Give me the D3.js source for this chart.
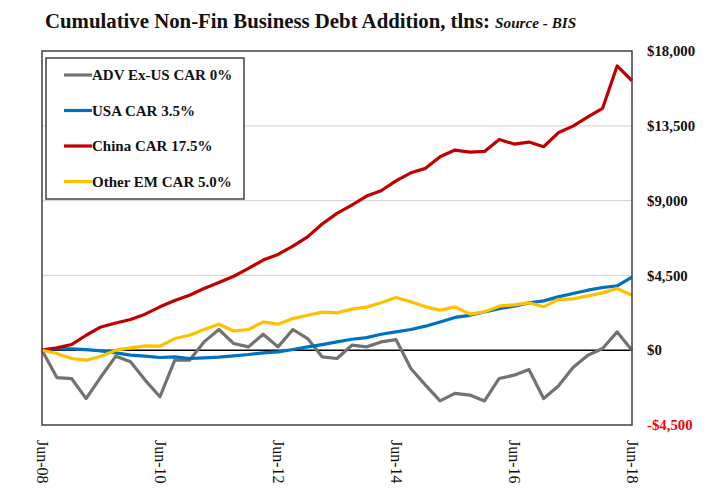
<!DOCTYPE html>
<html>
<head>
<meta charset="utf-8">
<script src="https://cdn.jsdelivr.net/npm/d3@7"></script>
<style>
  html, body { margin: 0; padding: 0; background: #fff; }
  svg { display: block; }
  text { font-family: "Liberation Serif", "Times New Roman", serif; }
</style>
</head>
<body>
<svg id="chart" width="709" height="495"></svg>
<script>
// Quarterly observations, Jun-08 to Jun-18 (cumulative additions, $bn)
const quarters = d3.range(41).map(i => new Date(2008, 5 + i * 3, 30));

const advExUS = [0, -1645, -1705, -2910, -1600, -360, -700, -1800, -2800, -600,
  -600, 500, 1245, 400, 200, 960, 200, 1245, 700, -400,
  -500, 300, 200, 500, 640, -1100, -2100, -3050, -2600, -2700,
  -3050, -1700, -1500, -1160, -2910, -2170, -1040, -300, 100, 1100, 0];

const usa = [0, 100, 80, 40, -40, -160, -300, -360, -440, -400,
  -500, -460, -420, -340, -260, -160, -100, 40, 200, 340,
  500, 660, 760, 960, 1100, 1245, 1445, 1700, 1970, 2100,
  2300, 2500, 2650, 2850, 2970, 3210, 3410, 3610, 3770, 3870, 4400];

const china = [0, 140, 340, 900, 1400, 1640, 1850, 2170, 2610, 2990,
  3310, 3710, 4070, 4450, 4920, 5420, 5760, 6260, 6820, 7590,
  8230, 8730, 9270, 9590, 10190, 10670, 10940, 11640, 12040, 11920,
  11960, 12680, 12400, 12520, 12240, 13080, 13480, 14040, 14550, 17100, 16210];

const otherEM = [0, -200, -500, -600, -360, 0, 140, 260, 240, 700,
  900, 1245, 1565, 1160, 1245, 1700, 1565, 1900, 2100, 2290,
  2250, 2470, 2590, 2850, 3170, 2910, 2610, 2410, 2610, 2170,
  2310, 2650, 2730, 2850, 2610, 3050, 3090, 3270, 3450, 3710, 3310];

const seriesNames = ["ADV Ex-US CAR 0%", "USA CAR 3.5%", "China CAR 17.5%", "Other EM CAR 5.0%"];
const seriesColors = ["#767171", "#0070C0", "#C00000", "#FFC000"];
const seriesValues = [advExUS, usa, china, otherEM];

const yTicks = [-4500, 0, 4500, 9000, 13500, 18000];
const xTickDates = [2008, 2010, 2012, 2014, 2016, 2018].map(y => new Date(y, 5, 30));

const svg = d3.select("#chart");
const plot = { left: 42, right: 632, top: 51, bottom: 425 };

const x = d3.scaleTime()
  .domain([quarters[0], quarters[quarters.length - 1]])
  .range([plot.left, plot.right]);
const y = d3.scaleLinear()
  .domain([-4500, 18000])
  .range([plot.bottom, plot.top]);

// Title
const title = svg.append("text")
  .attr("x", 45).attr("y", 28)
  .attr("font-size", 20.8).attr("font-weight", "bold").attr("fill", "#111");
title.append("tspan").text("Cumulative Non-Fin Business Debt Addition, tlns: ");
title.append("tspan").attr("font-size", 15.2).attr("font-style", "italic").text("Source - BIS");

// Horizontal gridlines
svg.append("g")
  .selectAll("line")
  .data(yTicks.filter(v => v !== 0 && v !== -4500 && v !== 18000))
  .join("line")
  .attr("x1", plot.left).attr("x2", plot.right)
  .attr("y1", d => y(d)).attr("y2", d => y(d))
  .attr("stroke", "#d9d9d9").attr("stroke-width", 1.2);

// Right value axis
const yAxis = svg.append("g")
  .attr("transform", `translate(${plot.right},0)`)
  .call(d3.axisRight(y).tickValues(yTicks).tickSize(0).tickPadding(15)
    .tickFormat(d => (d < 0 ? "-$" : "$") + d3.format(",")(Math.abs(d))));
yAxis.select(".domain").remove();
yAxis.selectAll("text")
  .attr("font-size", 14.8).attr("font-weight", "bold")
  .attr("font-family", "Liberation Serif, serif")
  .attr("fill", d => d < 0 ? "#ff0000" : "#111");

// Bottom date axis with vertical labels
const xAxis = svg.append("g")
  .attr("transform", `translate(0,${plot.bottom})`)
  .call(d3.axisBottom(x).tickValues(xTickDates).tickSize(0)
    .tickFormat(d3.timeFormat("Jun-%y")));
xAxis.select(".domain").remove();
xAxis.selectAll("text")
  .attr("font-size", 16).attr("font-family", "Liberation Serif, serif").attr("fill", "#111")
  .attr("transform", "rotate(90)")
  .attr("x", 15).attr("y", 0).attr("dy", "0.35em")
  .attr("text-anchor", "start");

// Zero line
svg.append("line")
  .attr("x1", plot.left).attr("x2", plot.right)
  .attr("y1", y(0)).attr("y2", y(0))
  .attr("stroke", "#000").attr("stroke-width", 1.5);

// Series lines
const line = d3.line()
  .x((d, i) => x(quarters[i]))
  .y(d => y(d));
svg.append("g")
  .selectAll("path")
  .data(seriesValues)
  .join("path")
  .attr("d", d => line(d))
  .attr("fill", "none")
  .attr("stroke", (d, i) => seriesColors[i])
  .attr("stroke-width", 3.2)
  .attr("stroke-linejoin", "round");

// Plot frame
svg.append("rect")
  .attr("x", plot.left).attr("y", plot.top)
  .attr("width", plot.right - plot.left).attr("height", plot.bottom - plot.top)
  .attr("fill", "none").attr("stroke", "#404040").attr("stroke-width", 1.5);

// Legend
const legend = svg.append("g");
legend.append("rect")
  .attr("x", 46).attr("y", 58).attr("width", 198).attr("height", 141)
  .attr("fill", "#fff").attr("stroke", "#404040").attr("stroke-width", 1.5);
const items = legend.selectAll("g.item")
  .data(seriesNames)
  .join("g")
  .attr("class", "item")
  .attr("transform", (d, i) => `translate(64,${75 + i * 35.5})`);
items.append("line")
  .attr("x1", 0).attr("x2", 28)
  .attr("stroke", (d, i) => seriesColors[i]).attr("stroke-width", 3.2);
items.append("text")
  .attr("x", 28).attr("dy", "0.35em")
  .attr("font-size", 15).attr("font-weight", "bold").attr("fill", "#111")
  .text(d => d);
</script>
</body>
</html>
